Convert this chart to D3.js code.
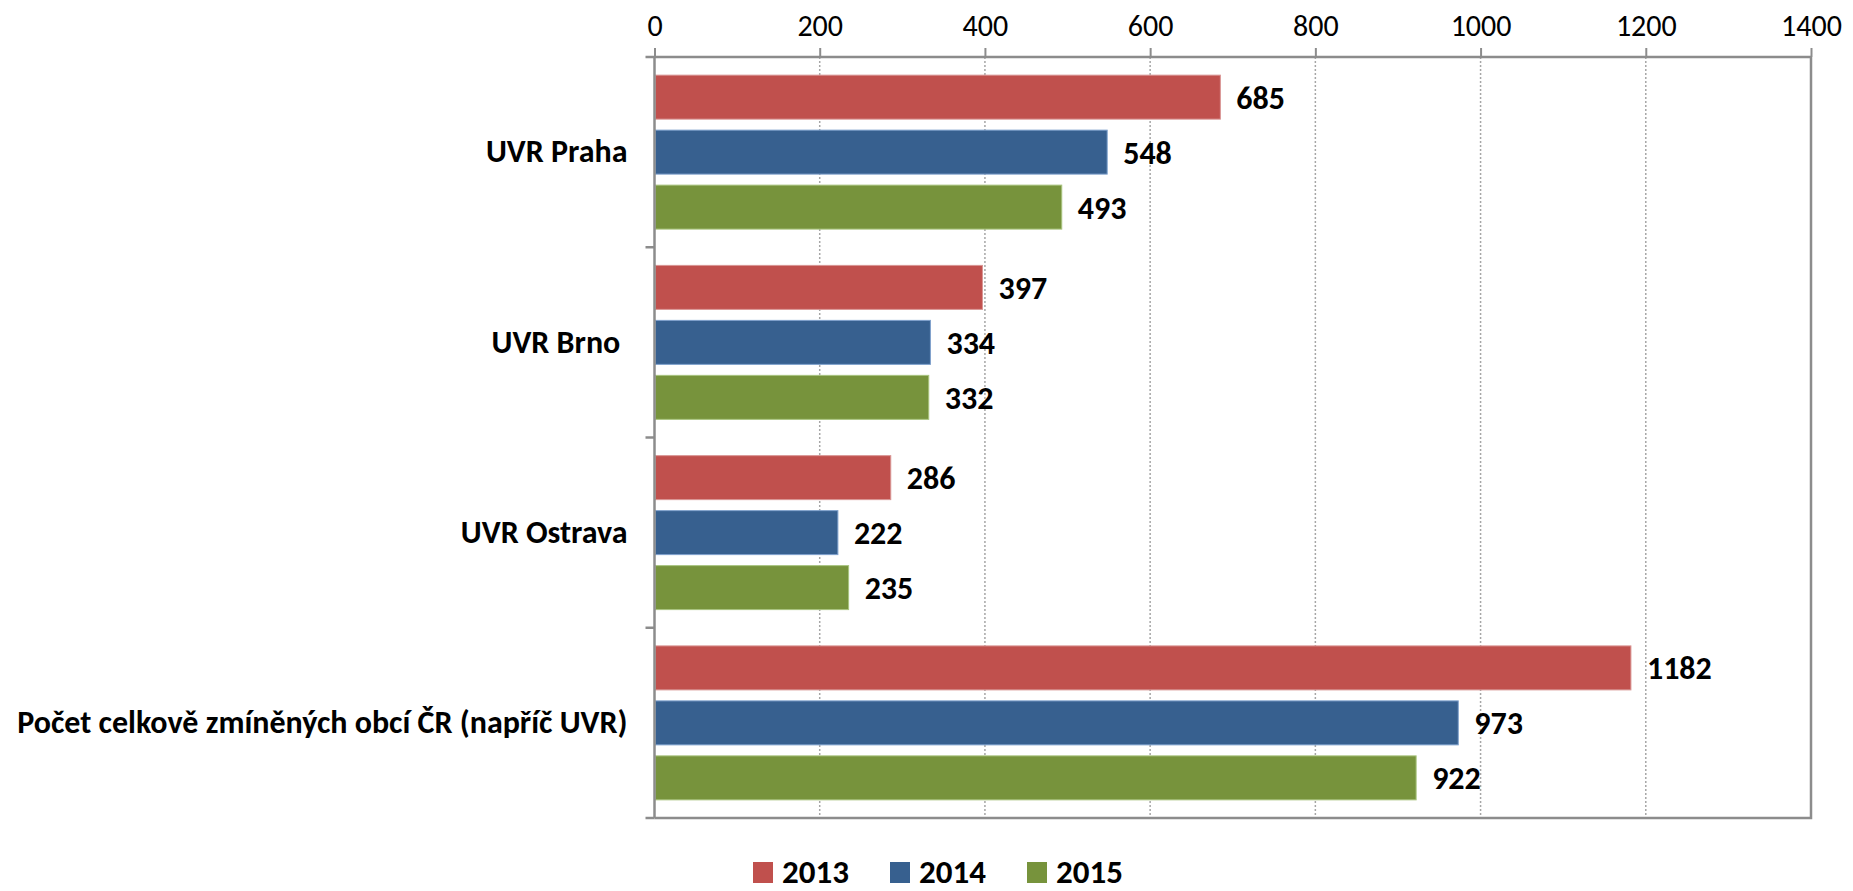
<!DOCTYPE html>
<html>
<head>
<meta charset="utf-8">
<script src="https://cdn.jsdelivr.net/npm/d3@7"></script>
<style>
  body { margin: 0; background: #fff; }
  text { font-family: Calibri, Carlito, Lato, sans-serif; fill: #000; }
</style>
</head>
<body>
<script>
const categories = ['UVR Praha', 'UVR Brno ', 'UVR Ostrava', 'Počet celkově zmíněných obcí ČR (napříč UVR)'];
const years = ['2013', '2014', '2015'];
const values2013 = [685, 397, 286, 1182];
const values2014 = [548, 334, 222, 973];
const values2015 = [493, 332, 235, 922];
const tickLabels = [0, 200, 400, 600, 800, 1000, 1200, 1400];
const colors = ['#C0504D', '#37608F', '#77933C'];
const strokes = ['#D99694', '#7EA0CC', '#A9C47F'];

const seriesValues = [values2013, values2014, values2015];

var svgSize = {'width' : 1853, 'height' : 891};
var plot = {'left' : 654.5, 'right' : 1811, 'top' : 57, 'bottom' : 818};

var svg = d3.select('body').append('svg')
	.attr('width', svgSize.width)
	.attr('height', svgSize.height);

var x = d3.scaleLinear().domain([0, 1400]).range([plot.left, plot.right]);
var y0 = d3.scaleBand().domain(categories).range([plot.top, plot.bottom]);
var y1 = d3.scaleBand().domain(years).range([0, y0.bandwidth()])
	.paddingInner(0.2).paddingOuter(0.33);

// dotted grid lines
svg.append('g')
	.selectAll('line')
	.data(tickLabels.slice(1, -1))
	.enter()
	.append('line')
	.attr('x1', (d) => x(d)).attr('x2', (d) => x(d))
	.attr('y1', plot.top).attr('y2', plot.bottom)
	.attr('stroke', '#a6a6a6')
	.attr('stroke-width', 1.5)
	.attr('stroke-dasharray', '2,2');

// plot border (right + bottom)
svg.append('path')
	.attr('d', `M${plot.right},${plot.top}V${plot.bottom}H${plot.left}`)
	.attr('fill', 'none')
	.attr('stroke', '#8c8c8c')
	.attr('stroke-width', 2.5);

// bars
var groups = svg.append('g')
	.selectAll('g')
	.data(categories)
	.enter()
	.append('g')
	.attr('transform', (d) => `translate(0, ${y0(d)})`);

groups.selectAll('rect')
	.data((d, i) => years.map((yr, s) => ({'year' : yr, 's' : s, 'value' : seriesValues[s][i]})))
	.enter()
	.append('rect')
	.attr('x', x(0) + 1)
	.attr('y', (d) => y1(d.year))
	.attr('width', (d) => x(d.value) - x(0) - 1)
	.attr('height', y1.bandwidth())
	.attr('fill', (d) => colors[d.s])
	.attr('stroke', (d) => strokes[d.s])
	.attr('stroke-width', 1);

groups.selectAll('text.val')
	.data((d, i) => years.map((yr, s) => ({'year' : yr, 's' : s, 'value' : seriesValues[s][i]})))
	.enter()
	.append('text')
	.attr('class', 'val')
	.attr('x', (d) => x(d.value) + 16)
	.attr('y', (d) => y1(d.year) + y1.bandwidth() / 2)
	.attr('dy', '0.36em')
	.attr('font-size', 32)
	.attr('font-weight', 'bold')
	.text((d) => d.value);

// top value axis
var xAxis = svg.append('g')
	.attr('transform', `translate(0, ${plot.top})`)
	.call(d3.axisTop(x).tickValues(tickLabels).tickFormat(d3.format('d'))
		.tickSize(9).tickPadding(12).tickSizeOuter(0));
xAxis.select('.domain').attr('stroke', '#8c8c8c').attr('stroke-width', 2.5)
	.attr('d', `M${plot.left - 9},0H${plot.right}`);
xAxis.selectAll('.tick line').attr('stroke', '#8c8c8c').attr('stroke-width', 2);
xAxis.selectAll('.tick text')
	.attr('font-size', 30)
	.style('font-family', 'Calibri, Carlito, Lato, sans-serif')
	.attr('fill', '#000');

// left category axis
var yAxis = svg.append('g')
	.attr('transform', `translate(${plot.left}, 0)`)
	.call(d3.axisLeft(y0).tickSize(0).tickPadding(27));
yAxis.select('.domain').attr('stroke', '#8c8c8c').attr('stroke-width', 2.5)
	.attr('d', `M0,${plot.top}V${plot.bottom}`);
yAxis.selectAll('.tick text')
	.attr('font-size', 32)
	.attr('font-weight', 'bold')
	.style('font-family', 'Calibri, Carlito, Lato, sans-serif')
	.style('white-space', 'pre')
	.attr('fill', '#000');

// category boundary ticks
svg.append('g')
	.selectAll('line')
	.data(categories.slice(1).map((c) => y0(c)).concat([plot.bottom]))
	.enter()
	.append('line')
	.attr('x1', plot.left - 9).attr('x2', plot.left)
	.attr('y1', (d) => d).attr('y2', (d) => d)
	.attr('stroke', '#8c8c8c')
	.attr('stroke-width', 2.5);

// legend
var legend = svg.append('g')
	.selectAll('g')
	.data(years)
	.enter()
	.append('g')
	.attr('transform', (d, i) => `translate(${753 + i * 137}, 862)`);

legend.append('rect')
	.attr('width', 20)
	.attr('height', 21)
	.attr('fill', (d, i) => colors[i]);

legend.append('text')
	.attr('x', 29)
	.attr('y', 21)
	.attr('font-size', 33)
	.attr('font-weight', 'bold')
	.text((d) => d);
</script>
</body>
</html>
